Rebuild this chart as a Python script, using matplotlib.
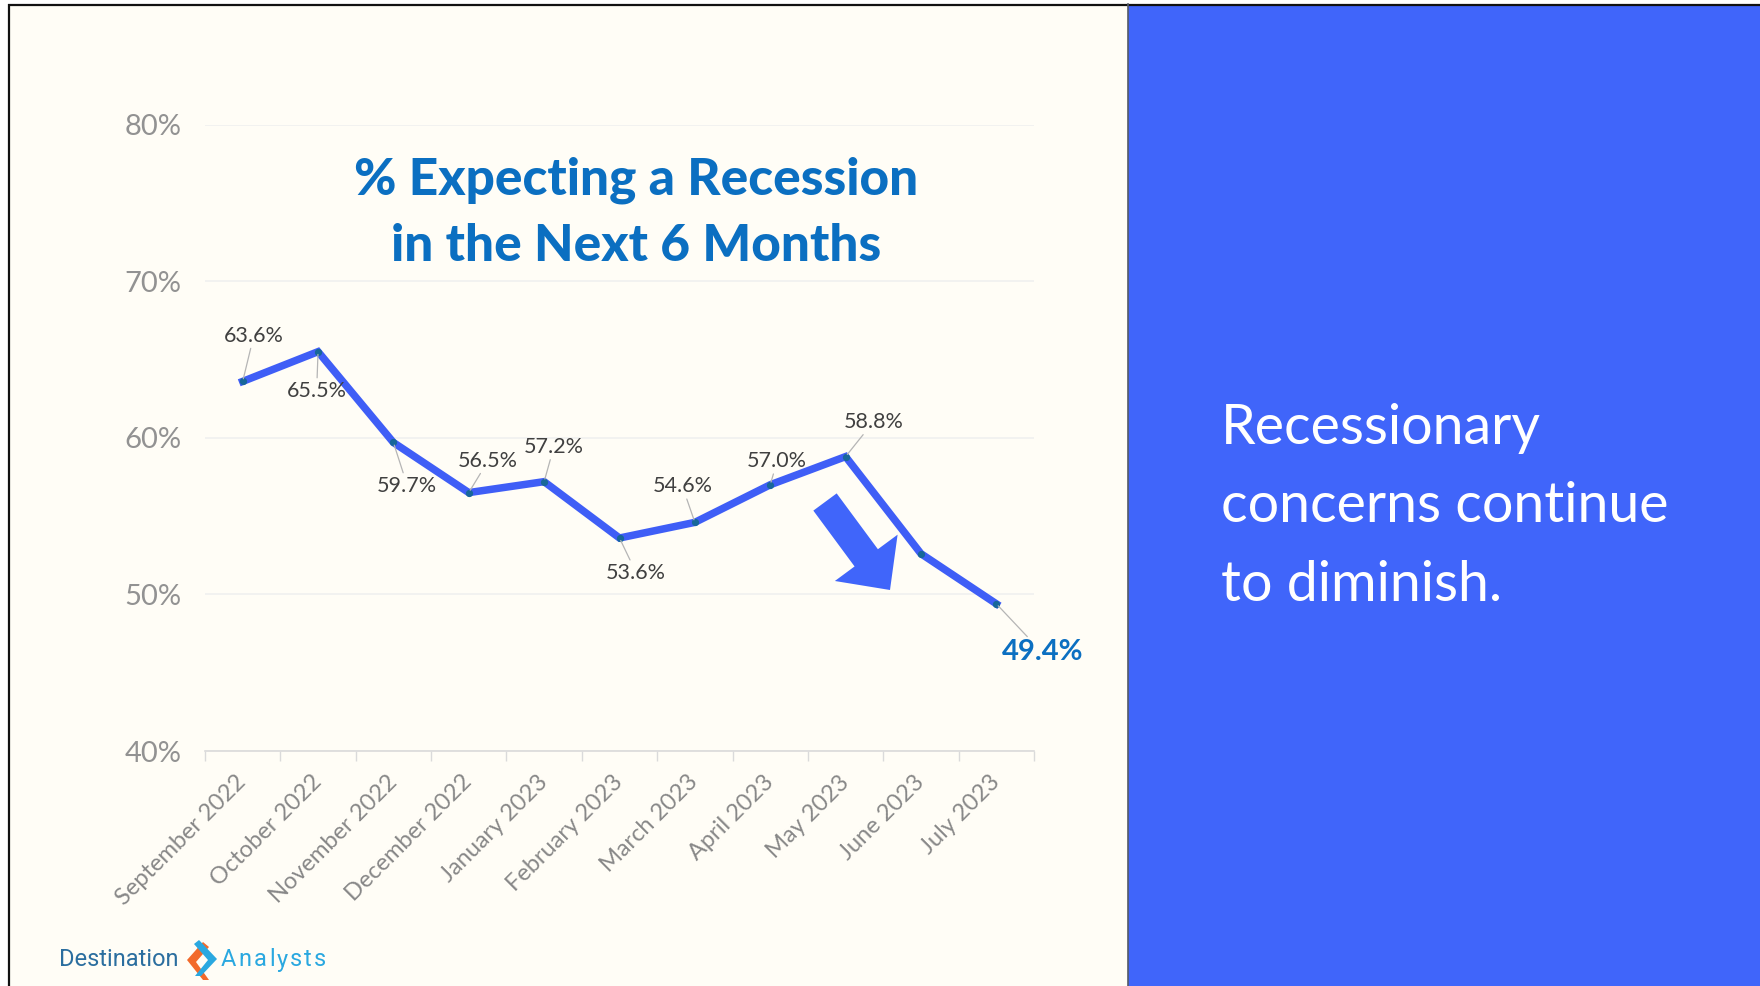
import matplotlib
matplotlib.use("Agg")
import matplotlib.pyplot as plt
from matplotlib.patches import Rectangle, FancyArrow, Polygon

# ---- data ----
months = ["September 2022", "October 2022", "November 2022", "December 2022",
          "January 2023", "February 2023", "March 2023", "April 2023",
          "May 2023", "June 2023", "July 2023"]
share = [63.6, 65.5, 59.7, 56.5, 57.2, 53.6, 54.6, 57.0, 58.8, 52.6, 49.4]
# which points carry a value label, and where the label sits (offset in points)
label_offsets = {0: (8, 33), 1: (-1, -28), 2: (10, -31), 3: (14, 23), 4: (7, 25),
                 5: (12, -25), 6: (-9, 26), 7: (5, 17), 8: (20, 25)}
last_offset = (33, -35)
yticks = [40, 50, 60, 70, 80]

W, H = 1760, 986
FONT = "Lato"
PANEL_X = 1128
BLUE_PANEL = "#4065FA"
LINE_BLUE = "#3F5EF6"
TITLE_BLUE = "#0B6FC1"

fig = plt.figure(figsize=(W / 100, H / 100), dpi=100)
fig.patch.set_facecolor("white")

# background canvas in pixel coordinates
bg = fig.add_axes([0, 0, 1, 1], zorder=0)
bg.set_xlim(0, W)
bg.set_ylim(H, 0)
bg.axis("off")
bg.add_patch(Rectangle((8, 4), PANEL_X - 8, H, facecolor="#FFFDF6", edgecolor="none"))
bg.add_patch(Rectangle((PANEL_X, 4), W - PANEL_X, H, facecolor=BLUE_PANEL, edgecolor="none"))
bg.plot([8, W], [4.5, 4.5], color="#111111", lw=1.6, solid_capstyle="butt")
bg.plot([8.5, 8.5], [4, H], color="#111111", lw=1.6, solid_capstyle="butt")
bg.plot([PANEL_X, PANEL_X], [4, H], color="#555a66", lw=1.2)

# down-pointing block arrow
bg.add_patch(FancyArrow(825, 502, 65, 88, width=29, head_width=78, head_length=40,
                        length_includes_head=True, color=BLUE_PANEL, lw=0))

# logo
r = fig.canvas.get_renderer()
bg.text(59, 960, "Destination", fontsize=17, color="#2B6E9F", family="Roboto",
        va="center", ha="left")
xc = 221
for ch in "Analysts":
    t = bg.text(xc, 960, ch, fontsize=17, color="#2AA8E0", family="Roboto",
                va="center", ha="left")
    xc = t.get_window_extent(r).x1 + 2.2
bg.add_patch(Polygon([[203, 942], [187, 960], [203, 980], [209, 980], [196, 962],
                      [209, 947]], closed=True, facecolor="#F26A2B", edgecolor="none"))
bg.add_patch(Polygon([[199, 940], [217, 959], [201, 976], [195, 976], [208, 960],
                      [194, 944]], closed=True, facecolor="#2AA8E0", edgecolor="none"))

# right panel statement
bg.text(1221, 507, "Recessionary\nconcerns continue\nto diminish.", fontsize=40,
        color="white", family=FONT, ha="left", va="center", linespacing=1.68)

# chart title
bg.text(636, 213, "% Expecting a Recession\nin the Next 6 Months", fontsize=37,
        color=TITLE_BLUE, family=FONT, weight="black", ha="center", va="center",
        linespacing=1.5)

# ---- line chart ----
left, right = 205 / W, 1034 / W
bottom, top = (H - 751) / H, (H - 124.6) / H
ax = fig.add_axes([left, bottom, right - left, top - bottom], zorder=2)
ax.patch.set_alpha(0)
x = list(range(len(months)))
ax.plot(x, share, color=LINE_BLUE, lw=5.4, solid_joinstyle="miter", zorder=3)
ax.plot(x, share, linestyle="none", marker="o", ms=4.2, color="#17679A", zorder=4)

ax.set_xlim(-0.5, len(months) - 0.5)
ax.set_ylim(yticks[0], yticks[-1])
ax.set_yticks(yticks)
ax.set_yticklabels([f"{v}%" for v in yticks], fontsize=21, color="#929292", family=FONT)
ax.tick_params(axis="y", length=0, pad=17)
ax.grid(axis="y", color="#EFEFEF", lw=1.1)
ax.set_axisbelow(True)

ax.set_xticks(x)
ax.set_xticklabels(months, rotation=45, ha="right", va="center", rotation_mode="anchor",
                   fontsize=17, color="#888888", family=FONT)
ax.tick_params(axis="x", which="major", length=0, pad=20)
ax.set_xticks([i - 0.5 for i in range(len(months) + 1)], minor=True)
ax.tick_params(axis="x", which="minor", length=7, width=1, color="#DADADA")

for s in ["top", "right", "left"]:
    ax.spines[s].set_visible(False)
ax.spines["bottom"].set_color("#DADADA")
ax.spines["bottom"].set_linewidth(1.2)

leader = dict(arrowstyle="-", color="#B5B5B5", lw=0.9, shrinkA=0, shrinkB=2)
for i, (dx, dy) in label_offsets.items():
    ax.annotate(f"{share[i]:.1f}%", xy=(x[i], share[i]), xytext=(dx, dy),
                textcoords="offset points", ha="center", va="center", fontsize=15.5,
                color="#404040", family=FONT, arrowprops=leader, zorder=5)
ax.annotate(f"{share[-1]:.1f}%", xy=(x[-1], share[-1]), xytext=last_offset,
            textcoords="offset points", ha="center", va="center", fontsize=21,
            weight="bold", color=TITLE_BLUE, family=FONT, arrowprops=leader, zorder=5)

fig.savefig("out.png", dpi=100)
